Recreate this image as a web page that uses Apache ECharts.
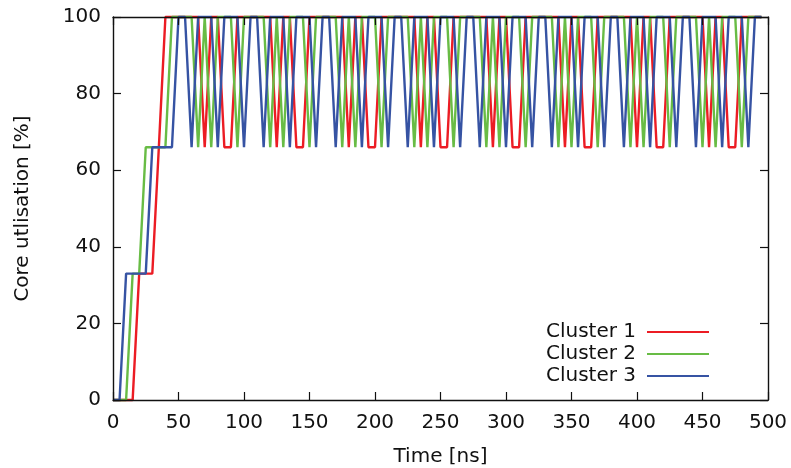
<!DOCTYPE html>
<html>
<head>
<meta charset="utf-8">
<script src="https://cdn.jsdelivr.net/npm/echarts@6/dist/echarts.min.js"></script>
<style>
  html, body { margin: 0; padding: 0; background: #fff; }
  #chart { width: 791px; height: 468px; }
</style>
</head>
<body>
<div id="chart"></div>
<script>
// time [ns], core utilisation [%]
const cluster1 = [
  [0, 0], [15, 0], [20, 33], [30, 33], [35, 66], [40, 100],
  [65, 100], [70, 66], [75, 100], [80, 100], [85, 66], [90, 66], [95, 100],
  [120, 100], [125, 66], [130, 100], [135, 100], [140, 66], [145, 66], [150, 100],
  [175, 100], [180, 66], [185, 100], [190, 100], [195, 66], [200, 66], [205, 100],
  [230, 100], [235, 66], [240, 100], [245, 100], [250, 66], [255, 66], [260, 100],
  [285, 100], [290, 66], [295, 100], [300, 100], [305, 66], [310, 66], [315, 100],
  [340, 100], [345, 66], [350, 100], [355, 100], [360, 66], [365, 66], [370, 100],
  [395, 100], [400, 66], [405, 100], [410, 100], [415, 66], [420, 66], [425, 100],
  [450, 100], [455, 66], [460, 100], [465, 100], [470, 66], [475, 66], [480, 100],
  [495, 100]
];

const cluster2 = [
  [0, 0], [10, 0], [15, 33], [20, 33], [25, 66], [40, 66], [45, 100],
  [60, 100], [65, 66], [70, 100], [75, 66], [80, 100], [90, 100], [95, 66], [100, 100],
  [115, 100], [120, 66], [125, 100], [130, 66], [135, 100], [145, 100], [150, 66], [155, 100],
  [170, 100], [175, 66], [180, 100], [185, 66], [190, 100], [200, 100], [205, 66], [210, 100],
  [225, 100], [230, 66], [235, 100], [240, 66], [245, 100], [255, 100], [260, 66], [265, 100],
  [280, 100], [285, 66], [290, 100], [295, 66], [300, 100], [310, 100], [315, 66], [320, 100],
  [335, 100], [340, 66], [345, 100], [350, 66], [355, 100], [365, 100], [370, 66], [375, 100],
  [390, 100], [395, 66], [400, 100], [405, 66], [410, 100], [420, 100], [425, 66], [430, 100],
  [445, 100], [450, 66], [455, 100], [460, 66], [465, 100], [475, 100], [480, 66], [485, 100],
  [495, 100]
];

const cluster3 = [
  [0, 0], [5, 0], [10, 33], [25, 33], [30, 66], [45, 66], [50, 100],
  [55, 100], [60, 66], [65, 100], [75, 100], [80, 66], [85, 100], [95, 100], [100, 66], [105, 100],
  [110, 100], [115, 66], [120, 100], [130, 100], [135, 66], [140, 100], [150, 100], [155, 66], [160, 100],
  [165, 100], [170, 66], [175, 100], [185, 100], [190, 66], [195, 100], [205, 100], [210, 66], [215, 100],
  [220, 100], [225, 66], [230, 100], [240, 100], [245, 66], [250, 100], [260, 100], [265, 66], [270, 100],
  [275, 100], [280, 66], [285, 100], [295, 100], [300, 66], [305, 100], [315, 100], [320, 66], [325, 100],
  [330, 100], [335, 66], [340, 100], [350, 100], [355, 66], [360, 100], [370, 100], [375, 66], [380, 100],
  [385, 100], [390, 66], [395, 100], [405, 100], [410, 66], [415, 100], [425, 100], [430, 66], [435, 100],
  [440, 100], [445, 66], [450, 100], [460, 100], [465, 66], [470, 100], [480, 100], [485, 66], [490, 100],
  [495, 100]
];

const seriesNames = ["Cluster 1", "Cluster 2", "Cluster 3"];
const seriesColors = ["#ec1c24", "#68bc45", "#3653a3"];

const font = "'DejaVu Sans', sans-serif";
const ink = "#111";

const chart = echarts.init(document.getElementById("chart"), null, { renderer: "canvas" });

function axisBase(extra) {
  return Object.assign({
    type: "value",
    axisLine: { show: true, onZero: false, lineStyle: { color: ink, width: 1.4 } },
    axisTick: { show: true, inside: true, length: 8, lineStyle: { color: ink, width: 1.2 } },
    splitLine: { show: false },
    z: 5
  }, extra);
}

chart.setOption({
  animation: false,
  backgroundColor: "#fff",
  grid: { left: 113, right: 23, top: 17, bottom: 68, outerBoundsMode: "none", containLabel: false },
  legend: {
    orient: "vertical",
    right: 77,
    top: 316,
    align: "right",
    icon: "rect",
    itemWidth: 62,
    itemHeight: 2,
    itemGap: 0,
    selectedMode: false,
    data: seriesNames,
    textStyle: { fontFamily: font, fontSize: 20, color: ink, lineHeight: 22, padding: [0, 6, 0, 0] }
  },
  xAxis: [
    axisBase({
      min: 0, max: 500, interval: 50,
      position: "bottom",
      name: "Time [ns]",
      nameLocation: "middle",
      nameGap: 47,
      nameTextStyle: { fontFamily: font, fontSize: 20, color: ink },
      axisLabel: { fontFamily: font, fontSize: 20, color: ink, margin: 13 }
    }),
    axisBase({
      min: 0, max: 500, interval: 50,
      position: "top",
      axisLabel: { show: false }
    })
  ],
  yAxis: [
    axisBase({
      min: 0, max: 100, interval: 20,
      position: "left",
      name: "Core utlisation [%]",
      nameLocation: "middle",
      nameGap: 80,
      nameTextStyle: { fontFamily: font, fontSize: 20, color: ink },
      axisLabel: { fontFamily: font, fontSize: 20, color: ink, margin: 12 }
    }),
    axisBase({
      min: 0, max: 100, interval: 20,
      position: "right",
      axisLabel: { show: false }
    })
  ],
  series: [cluster1, cluster2, cluster3].map((data, i) => ({
    name: seriesNames[i],
    type: "line",
    data: data,
    symbol: "none",
    clip: false,
    color: seriesColors[i],
    lineStyle: { color: seriesColors[i], width: 2.4 },
    z: 2 + i
  }))
});
</script>
</body>
</html>
